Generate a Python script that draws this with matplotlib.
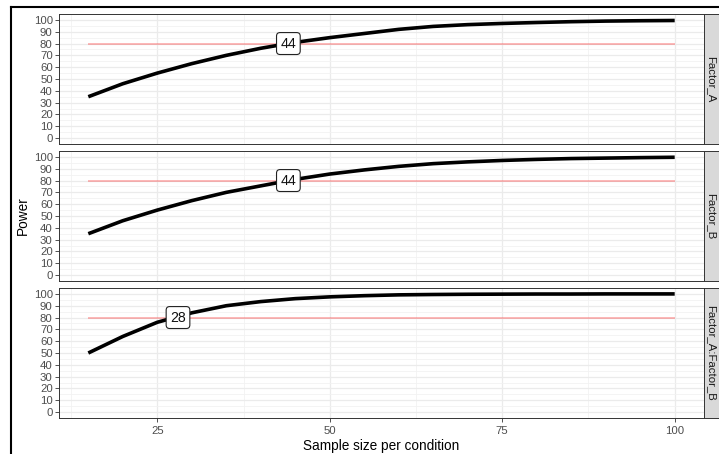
import matplotlib.pyplot as plt
from matplotlib.lines import Line2D

plt.rcParams['font.family'] = ['Liberation Sans', 'DejaVu Sans']

# sample sizes per condition
n = [15, 20, 25, 30, 35, 40, 45, 50, 55, 60, 65, 70, 75, 80, 85, 90, 95, 100]

# power (%)
power_a = [35, 46, 55, 63, 70, 76, 81, 85, 88.5, 92, 94.5, 96, 97, 97.8, 98.5, 99, 99.3, 99.5]
power_b = [35, 46, 55, 63, 70, 75.5, 81, 85.5, 89, 92, 94.3, 95.8, 97, 97.9, 98.6, 99, 99.4, 99.7]
power_ab = [50, 64, 76, 84, 90, 93.5, 96, 97.5, 98.5, 99.2, 99.5, 99.7, 99.8, 99.9, 99.9, 100, 100, 100]

facets = ["Factor_A", "Factor_B", "Factor_A:Factor_B"]
powers = [power_a, power_b, power_ab]
n_at_80 = [44, 44, 28]
target = 80

W, H = 719, 454
fig = plt.figure(figsize=(W / 100, H / 100), dpi=100)


def px_axes(x0, y0, w, h):
    return fig.add_axes([x0 / W, 1 - (y0 + h) / H, w / W, h / H])


tops = [14, 151, 288]
for i in range(3):
    ax = px_axes(59, tops[i], 645, 130)
    ax.plot(n, powers[i], color='black', lw=2.6, solid_capstyle='butt', zorder=3)
    ax.hlines(target, n[0], n[-1], color='red', alpha=0.35, lw=1.1, zorder=2)
    ax.text(n_at_80[i], target, str(n_at_80[i]), fontsize=10.2, ha='center', va='center',
            color='#111111', zorder=4,
            bbox=dict(boxstyle='round,pad=0.28,rounding_size=0.25', fc='white',
                      ec='#222222', lw=0.8))
    ax.set_xlim(10.75, 104.25)
    ax.set_ylim(-5, 105)
    ax.set_yticks(range(0, 101, 10))
    ax.set_yticks(range(5, 100, 10), minor=True)
    ax.set_xticks([25, 50, 75, 100])
    ax.set_xticks([12.5, 37.5, 62.5, 87.5], minor=True)
    ax.grid(True, which='major', color='#EBEBEB', lw=0.9, zorder=0)
    ax.grid(True, which='minor', color='#F2F2F2', lw=0.6, zorder=0)
    ax.set_axisbelow(True)
    ax.tick_params(which='major', length=3, width=0.6, color='#333333',
                   labelsize=8.2, labelcolor='#4D4D4D', pad=1.5)
    ax.tick_params(which='minor', length=0)
    for s in ax.spines.values():
        s.set_color('#333333')
        s.set_linewidth(0.7)
    if i < 2:
        ax.tick_params(axis='x', which='major', length=0, labelbottom=False)
    else:
        ax.set_xlabel("Sample size per condition", fontsize=9.8, color='black', labelpad=2)
        ax.tick_params(axis='x', pad=3)
    if i == 1:
        ax.set_ylabel("Power", fontsize=9.8, color='black', labelpad=3)

    # facet strip on the right
    st = px_axes(704, tops[i], 20, 130)
    st.set_facecolor('#D9D9D9')
    st.set_xticks([])
    st.set_yticks([])
    for s in st.spines.values():
        s.set_color('#333333')
        s.set_linewidth(0.7)
    st.text(0.35, 0.5, facets[i], rotation=-90, ha='center', va='center',
            fontsize=8.2, color='#1A1A1A', transform=st.transAxes)

# outer black frame (cut on the right and bottom)
fig.add_artist(Line2D([11 / W, 11 / W], [0, 1 - 7 / H], color='black', lw=1.5,
                      transform=fig.transFigure))
fig.add_artist(Line2D([11 / W, 1], [1 - 7 / H, 1 - 7 / H], color='black', lw=1.5,
                      transform=fig.transFigure))

fig.savefig("out.png", dpi=100)
